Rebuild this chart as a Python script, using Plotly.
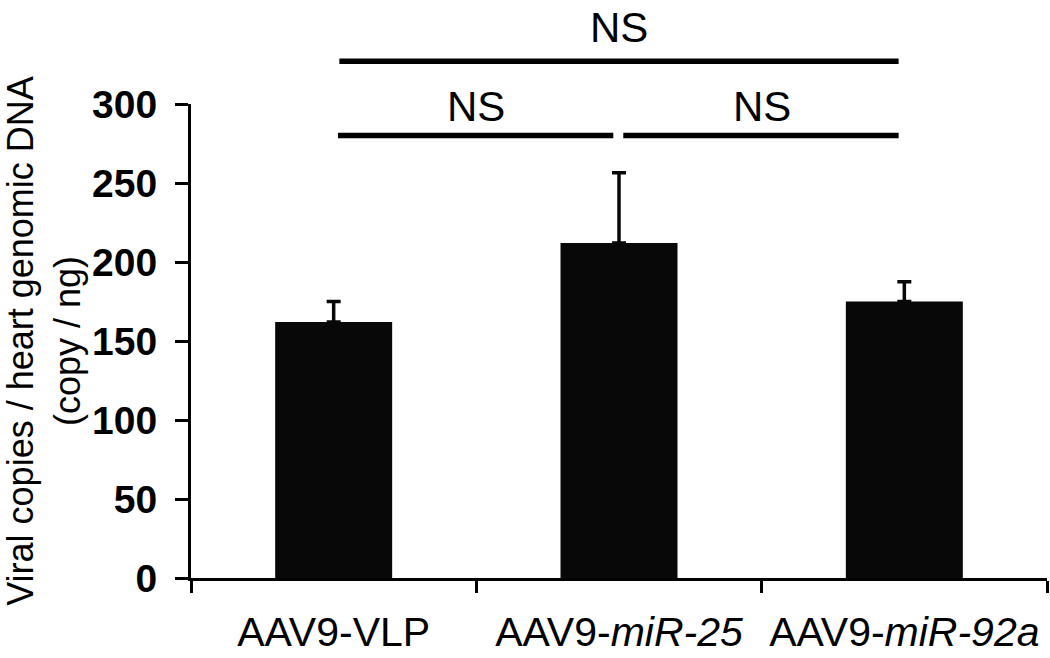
import plotly.graph_objects as go

categories = ["AAV9-VLP", "AAV9-miR-25", "AAV9-miR-92a"]
tick_text = ["AAV9-VLP", "AAV9-<i>miR-25</i>", "AAV9-<i>miR-92a</i>"]
means = [162, 212, 175]
errors = [13, 44.5, 12.5]

y_ticks = [0, 50, 100, 150, 200, 250, 300]
y_max = 300

# significance brackets: (start index, end index, level in data units)
bracket_pairs = [(0, 1), (1, 2), (0, 2)]
bracket_levels = [280, 280, 327]
bracket_labels = ["NS", "NS", "NS"]
bracket_text_levels = [298.7, 298.7, 348.5]

FONT = "Liberation Sans, Arial, sans-serif"
BAR_COLOR = "#080808"

fig = go.Figure()
fig.add_trace(go.Bar(
    x=categories,
    y=means,
    marker=dict(color=BAR_COLOR, line=dict(width=0)),
    error_y=dict(type="data", array=errors, symmetric=False, arrayminus=[0] * len(errors),
                 color=BAR_COLOR, thickness=3.5, width=7),
    showlegend=False,
))

n = len(categories)
shapes = []
annotations = []
for (a, b), lvl, lab, tl in zip(bracket_pairs, bracket_levels, bracket_labels, bracket_text_levels):
    inset_a, inset_b = 0.015, 0.02
    if b - a > 1:
        inset_a, inset_b = 0.02, 0.02
    # convert category index to paper fraction (x range is [-0.5, n-0.5])
    x0 = (a + inset_a + 0.5) / n
    x1 = (b - inset_b + 0.5) / n
    shapes.append(dict(type="line", xref="paper", yref="paper",
                       x0=x0, x1=x1, y0=lvl / y_max, y1=lvl / y_max,
                       line=dict(color="#000000", width=5.5)))
    annotations.append(dict(xref="paper", yref="paper", x=((a + b) / 2 + 0.5) / n, y=tl / y_max,
                            text=lab, showarrow=False, yanchor="middle", xanchor="center",
                            font=dict(family=FONT, size=42, color="#000000")))

fig.update_layout(
    width=1050, height=658,
    margin=dict(l=191, r=3, t=104, b=72),
    paper_bgcolor="white", plot_bgcolor="white",
    bargap=0.59,
    shapes=shapes,
    annotations=annotations,
    font=dict(family=FONT, color="#000000"),
    xaxis=dict(
        type="category",
        range=[-0.5, n - 0.5],
        tickmode="array", tickvals=categories, ticktext=tick_text,
        tickson="boundaries",
        ticks="outside", ticklen=12, tickwidth=3, tickcolor="#000000",
        showline=True, linewidth=3, linecolor="#000000",
        showgrid=False, zeroline=False,
        tickfont=dict(family=FONT, size=41, color="#000000"),
        ticklabelstandoff=16,
    ),
    yaxis=dict(
        range=[0, y_max],
        tickmode="array", tickvals=y_ticks,
        ticks="outside", ticklen=13, tickwidth=3, tickcolor="#000000",
        showline=True, linewidth=3, linecolor="#000000",
        showgrid=False, zeroline=False,
        tickfont=dict(family=FONT, size=39, color="#000000", weight="bold"),
        ticklabelstandoff=10,
        title=dict(text="Viral copies / heart genomic DNA<br>(copy / ng)",
                   font=dict(family=FONT, size=36, color="#000000"),
                   standoff=6),
    ),
)

fig.write_html("out.html",
               config={"displayModeBar": False},
               post_script="document.body.style.margin='0';document.body.style.overflow='hidden';")
